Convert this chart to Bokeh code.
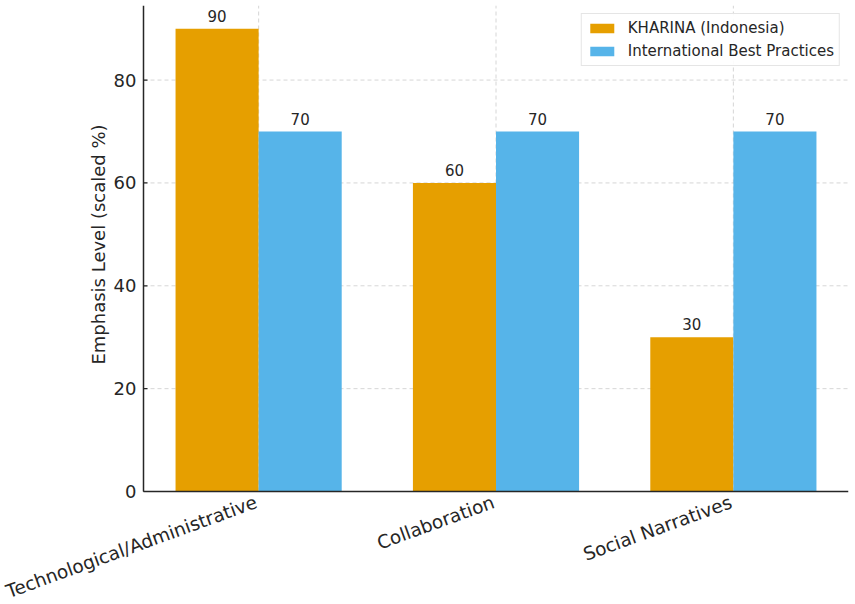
import math
from bokeh.plotting import figure
from bokeh.models import ColumnDataSource, Range1d, LabelSet, Legend, LegendItem
from bokeh.core.properties import value
from bokeh.embed import file_html
from bokeh.resources import INLINE

categories = ["Technological/Administrative", "Collaboration", "Social Narratives"]
kharina = [90, 60, 30]
international = [70, 70, 70]
series_names = ["KHARINA (Indonesia)", "International Best Practices"]
colors = ["#E69F00", "#56B4E9"]
y_ticks = [0, 20, 40, 60, 80]
y_label = "Emphasis Level (scaled %)"

bar_w = 0.35
idx = list(range(len(categories)))

# data area (like matplotlib axes limits)
x_left, x_right = -0.485, 2.485
y_top = 94.5

W, H = 855, 604
border_top, border_right = 5, 7
area_left_px, area_bottom_px = 143, 491          # where the axes box sits on the page
px_per_x = (W - border_right - area_left_px) / (x_right - x_left)
px_per_y = (area_bottom_px - border_top) / y_top
# the frame spans the whole page so the texts outside the axes box are not clipped
x_lo = x_left - area_left_px / px_per_x
y_lo = -(H - area_bottom_px) / px_per_y

FONT = "DejaVu Sans"
TXT = "#262626"
GRID = "#cccccc"
SPINE = "#262626"

src1 = ColumnDataSource(dict(x=[i - bar_w / 2 for i in idx], top=kharina,
                             lab=[str(v) for v in kharina]))
src2 = ColumnDataSource(dict(x=[i + bar_w / 2 for i in idx], top=international,
                             lab=[str(v) for v in international]))
cat_src = ColumnDataSource(dict(x=idx, y0=[0] * len(idx), y1=[y_top] * len(idx),
                                name=categories))
yt_src = ColumnDataSource(dict(y=y_ticks, x0=[x_left] * len(y_ticks),
                               x1=[x_right] * len(y_ticks),
                               xt=[x_left + 4 / px_per_x] * len(y_ticks),
                               lab=[str(t) for t in y_ticks]))

p = figure(width=W, height=H, output_backend="svg", toolbar_location=None,
           x_range=Range1d(x_lo, x_right), y_range=Range1d(y_lo, y_top))
p.min_border_left = 0
p.min_border_right = border_right
p.min_border_top = border_top
p.min_border_bottom = 0
p.outline_line_color = None
p.background_fill_color = "white"
p.xaxis.visible = False
p.yaxis.visible = False
p.xgrid.visible = False
p.ygrid.visible = False

# grid lines (dashed, light grey) restricted to the axes box
p.segment(x0="x0", y0="y", x1="x1", y1="y", source=yt_src, line_color=GRID,
          line_dash="4 3", line_width=0.8)
p.segment(x0="x", y0="y0", x1="x", y1="y1", source=cat_src, line_color=GRID,
          line_dash="4 3", line_width=0.8)

r1 = p.vbar(x="x", top="top", width=bar_w, source=src1, fill_color=colors[0], line_color=None)
r2 = p.vbar(x="x", top="top", width=bar_w, source=src2, fill_color=colors[1], line_color=None)

for s in (src1, src2):
    p.add_layout(LabelSet(x="x", y="top", text="lab", source=s, text_align="center",
                          text_baseline="bottom", y_offset=7, text_font_size=value("15px"),
                          text_font=value(FONT), text_color=TXT))

# spines (left and bottom)
p.segment(x0=[x_left, x_left], y0=[0, 0], x1=[x_left, x_right], y1=[y_top, 0],
          line_color=SPINE, line_width=1.5)
# inward y ticks
p.segment(x0="x0", y0="y", x1="xt", y1="y", source=yt_src, line_color=SPINE, line_width=1.2)

# y tick labels
p.text(x="x0", y="y", text="lab", source=yt_src, text_align="right",
       text_baseline="middle", x_offset=-7, text_font=value(FONT),
       text_font_size=value("18px"), text_color=TXT)

# y axis title
p.text(x=[x_left], y=[y_top / 2], text=[y_label], angle=math.pi / 2,
       text_align="center", text_baseline="bottom", x_offset=-35, y_offset=-4,
       text_font=value(FONT), text_font_size=value("18px"), text_color=TXT)

# rotated category labels (right end at the tick, rotation 20 degrees)
p.text(x="x", y="y0", text="name", source=cat_src, angle=math.radians(20),
       text_align="right", text_baseline="top", x_offset=-6, y_offset=0,
       text_font=value(FONT), text_font_size=value("18.5px"), text_color=TXT)

legend = Legend(items=[LegendItem(label=series_names[0], renderers=[r1]),
                       LegendItem(label=series_names[1], renderers=[r2])],
                location="top_right")
legend.margin = 8
legend.padding = 5
legend.spacing = 5
legend.glyph_width = 30
legend.glyph_height = 12
legend.label_height = 18
legend.label_standoff = 11
legend.label_text_font = FONT
legend.label_text_font_size = "15px"
legend.label_text_color = TXT
legend.border_line_color = GRID
legend.border_line_width = 1
legend.background_fill_alpha = 0.9
p.add_layout(legend)

open("out.html", "w").write(file_html(p, INLINE))
